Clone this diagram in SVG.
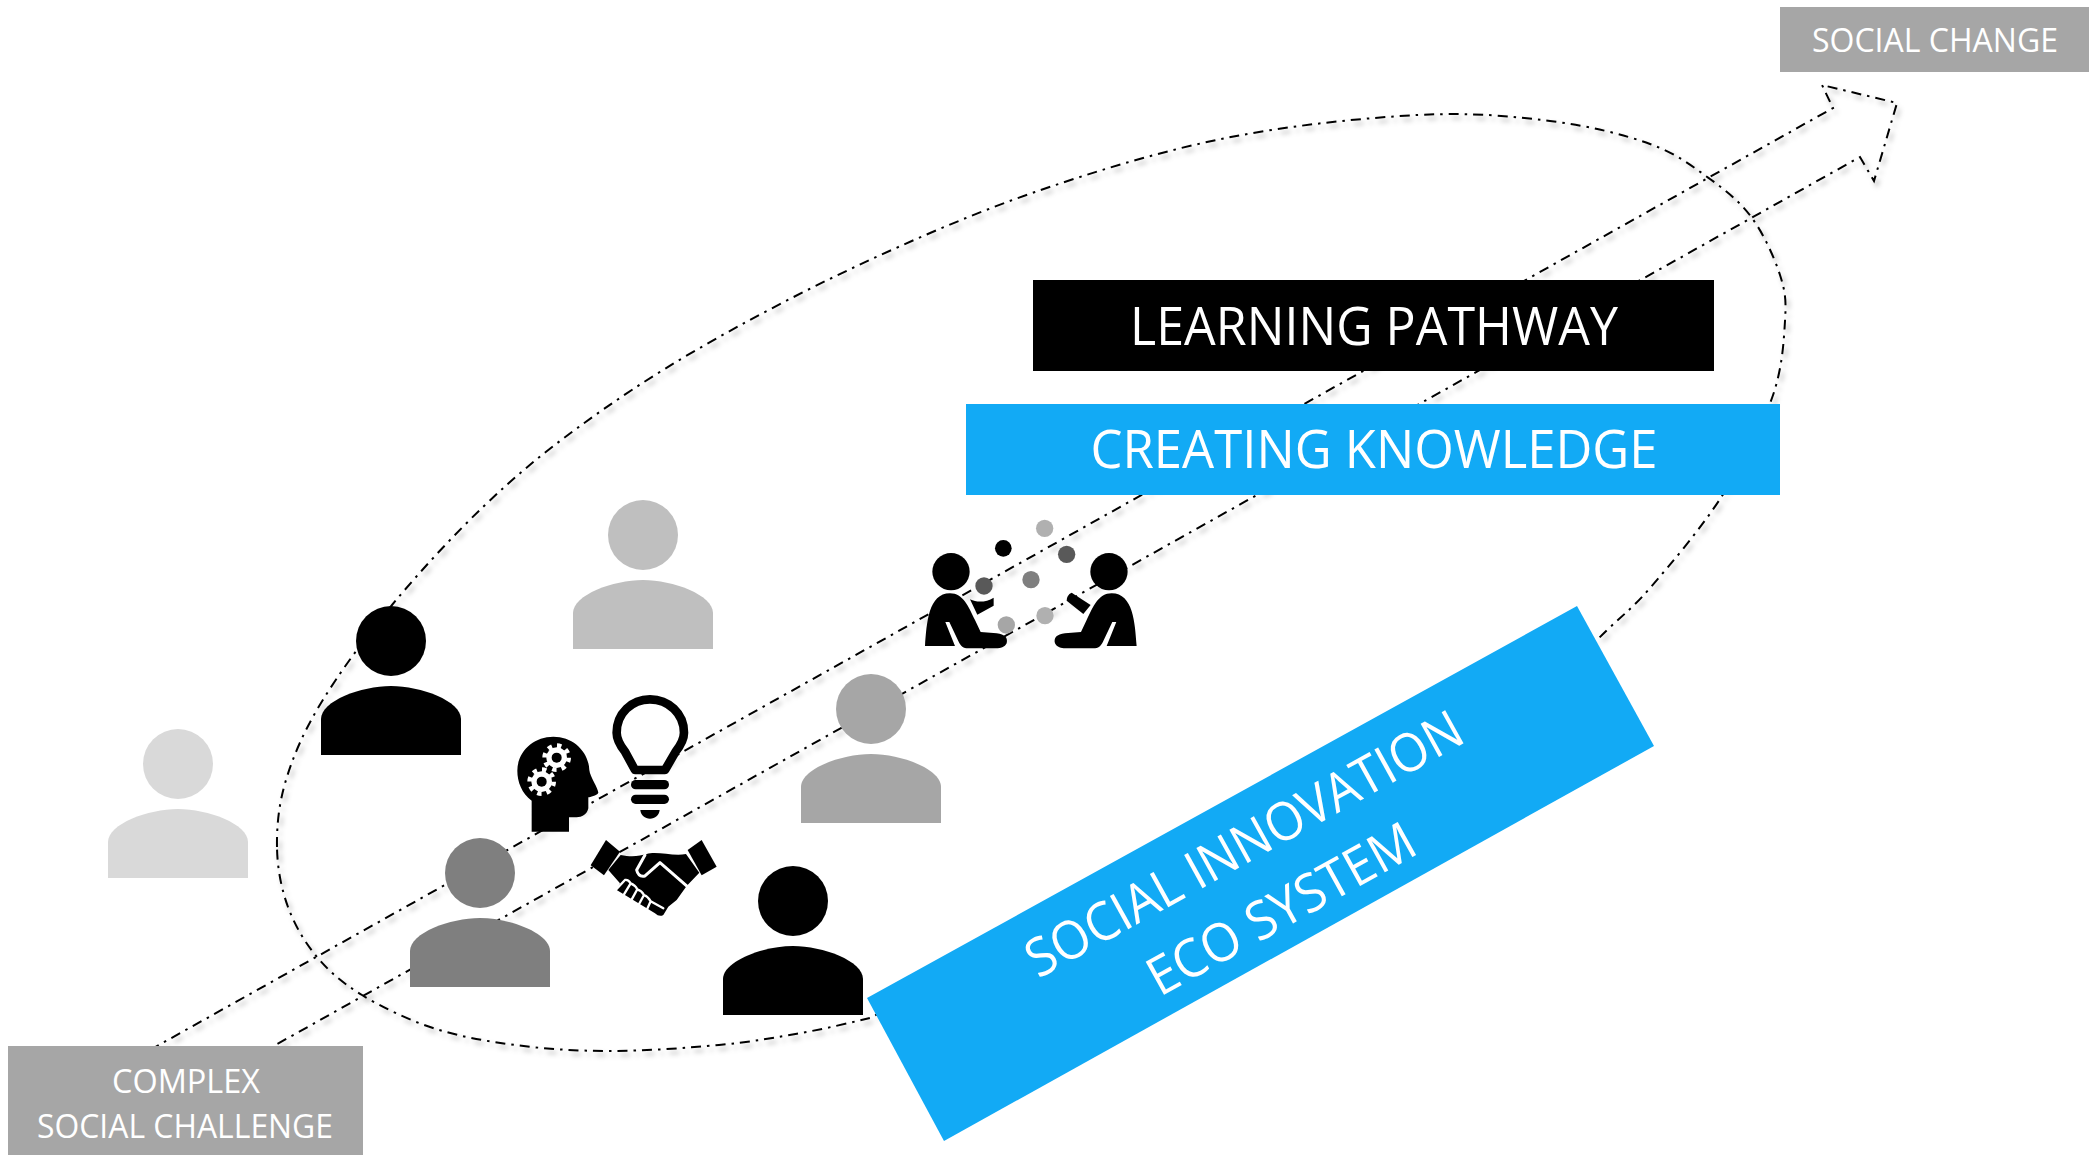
<svg xmlns="http://www.w3.org/2000/svg" width="2097" height="1155" viewBox="0 0 2097 1155">
<defs>
<style>
.t{font-family:"Open Sans","Liberation Sans",sans-serif;fill:#fff;text-anchor:middle}
.big{font-size:53px}
.small{font-size:32px}
.dash{fill:none;stroke:#000;stroke-width:2;stroke-dasharray:10 6 2.5 6;filter:url(#sh)}
.grey{fill:#a6a6a6}
.blue{fill:#12aaf5}
</style>
<filter id="sh" x="-5%" y="-5%" width="110%" height="110%"><feDropShadow dx="3" dy="4" stdDeviation="2.5" flood-color="#000" flood-opacity=".3"/></filter>
<g id="person"><circle cx="0" cy="0" r="35"/><path d="M-70 114V78C-70 60-30 45 0 45C30 45 70 60 70 78V114Z"/></g>
<path id="sitter" d="M75 408C80 340 85 250 150 250C190 250 205 290 225 330L242 366L290 370C315 372 325 385 320 400C315 412 300 415 290 415H205C190 415 182 408 176 395L148 336H136L165 408Z"/>
</defs>
<g id="connectors">
<path class="dash" d="M277 847C276.7 825.8 278.7 804 286 780C293.3 756 303.3 732.2 321 703C338.7 673.8 364.8 637.8 392 605C419.2 572.2 453.3 535.3 484 506C514.7 476.7 540.3 455.2 576 429C611.7 402.8 650.8 376.3 698 349C745.2 321.7 802.8 291.2 859 265C915.2 238.8 973.8 213.2 1035 192C1096.2 170.8 1162.2 150.8 1226 138C1289.8 125.2 1364 117.8 1418 115C1472 112.2 1511.3 116.2 1550 121C1588.7 125.8 1623.3 134.3 1650 144C1676.7 153.7 1693 166.7 1710 179C1727 191.3 1740.3 202 1752 218C1763.7 234 1774.5 257.8 1780 275C1785.5 292.2 1786.3 300.5 1785 321C1783.7 341.5 1782.5 368.8 1772 398C1761.5 427.2 1742.3 464.3 1722 496C1701.7 527.7 1670.7 564.2 1650 588C1629.3 611.8 1624 613 1598 639L870 1018C849 1023 826.2 1028.5 801 1033C775.8 1037.5 751 1042 719 1045C687 1048 643 1051 609 1051C575 1051 544.3 1048.8 515 1045C485.7 1041.2 458.5 1036.3 433 1028C407.5 1019.7 381.3 1006.8 362 995C342.7 983.2 329.3 971.7 317 957C304.7 942.3 294.7 925.3 288 907C281.3 888.7 277.3 868.2 277 847Z"/>
<path class="dash" d="M150 1050L1833 108L1822 85L1897 103L1874 181L1860 157L263 1052"/>
</g>
<g id="social-change"><rect class="grey" x="1780" y="7" width="309" height="65"/><text class="t small" x="1935" y="52" textLength="246" lengthAdjust="spacingAndGlyphs">SOCIAL CHANGE</text></g>
<g id="complex-challenge"><rect class="grey" x="8" y="1046" width="355" height="109"/><text class="t small" x="186" y="1093" textLength="148" lengthAdjust="spacingAndGlyphs">COMPLEX</text><text class="t small" x="185" y="1138" textLength="296" lengthAdjust="spacingAndGlyphs">SOCIAL CHALLENGE</text></g>
<g id="learning-pathway"><rect x="1033" y="280" width="681" height="91"/><text class="t big" x="1374" y="345" textLength="488" lengthAdjust="spacingAndGlyphs">LEARNING PATHWAY</text></g>
<g id="creating-knowledge"><rect class="blue" x="966" y="404" width="814" height="91"/><text class="t big" x="1374" y="468" textLength="567" lengthAdjust="spacingAndGlyphs">CREATING KNOWLEDGE</text></g>
<g id="eco-system"><path class="blue" d="M1577 606L1654 746L944 1141L867 998Z"/>
<text class="t big" transform="translate(1253 860) rotate(-29)" x="0" y="0" textLength="491" lengthAdjust="spacingAndGlyphs">SOCIAL INNOVATION</text>
<text class="t big" transform="translate(1290 925) rotate(-29)" x="0" y="0" textLength="298" lengthAdjust="spacingAndGlyphs">ECO SYSTEM</text></g>
<g id="person-1" fill="#d9d9d9"><use href="#person" x="178" y="764"/></g>
<g id="person-2" fill="#000"><use href="#person" x="391" y="641"/></g>
<g id="person-3" fill="#bfbfbf"><use href="#person" x="643" y="535"/></g>
<g id="person-4" fill="#7f7f7f"><use href="#person" x="480" y="873"/></g>
<g id="person-5" fill="#a6a6a6"><use href="#person" x="871" y="709"/></g>
<g id="person-6" fill="#000"><use href="#person" x="793" y="901"/></g>
<g id="head-icon" transform="translate(500 680) scale(.3333)">
<path d="M95 455V362C65 340 52 305 52 272C52 215 100 170 160 170C220 170 266 215 268 270C270 290 295 325 295 338C290 348 270 350 265 352V385C262 403 245 412 230 412H207V455Z"/>
<g fill="#fff"><circle cx="170" cy="233" r="31"/><circle cx="125" cy="305" r="31"/></g>
<g fill="none" stroke="#fff" stroke-width="14" stroke-dasharray="13 15.27"><circle cx="170" cy="233" r="36"/><circle cx="125" cy="305" r="36"/></g>
<circle cx="170" cy="233" r="15"/><circle cx="125" cy="305" r="15"/>
</g>
<g id="bulb-icon" transform="translate(500 680) scale(.3333)">
<path fill="#fff" stroke="#000" stroke-width="26" stroke-linejoin="round" d="M405 270L375 215C358 193 350 175 350 158C350 100 395 58 450 58C505 58 552 100 552 158C552 175 544 193 527 215L495 270Z"/>
<rect x="393" y="300" width="114" height="28" rx="14"/><rect x="393" y="344" width="114" height="28" rx="14"/>
<path d="M421 390H479C478 405 465 416 450 416C435 416 422 405 421 390Z"/>
</g>
<g id="handshake-icon" transform="translate(500 680) scale(.3333)">
<path d="M318 480L360 515L312 586L272 556Z"/><path d="M605 480L650 560L605 586L563 510Z"/>
<path d="M362 525C395 532 420 528 440 522C470 512 520 530 558 522L598 578L560 618L530 660L505 680L490 705Q478 712 465 700L350 630L360 610L325 570Z"/>
<g fill="none" stroke-linecap="round" stroke-linejoin="round"><path stroke="#fff" stroke-width="9" d="M435 525L410 570Q415 592 435 588L480 548L560 618"/>
<path stroke="#fff" stroke-width="7" d="M345 632L375 600Q385 598 392 610L368 650M392 610Q405 615 412 628L390 668M412 628Q425 632 432 645L412 682M432 645Q445 650 452 664L438 695M452 664L490 685"/></g>
</g>
<g id="dialogue-icon" transform="translate(900 510) scale(.3333)">
<circle cx="153" cy="185" r="56"/><use href="#sitter"/>
<path d="M210 268C235 280 260 275 281 263V287L232 314Z"/>
<circle cx="627" cy="185" r="56"/><use href="#sitter" transform="translate(785 0) scale(-1 1)"/>
<path d="M515 248L572 285L550 312L500 272Q500 255 515 248Z"/>
<circle cx="434" cy="55" r="26" fill="#b0b0b0"/><circle cx="310" cy="115" r="25"/><circle cx="500" cy="133" r="26" fill="#595959"/><circle cx="252" cy="228" r="26" fill="#595959"/><circle cx="393" cy="209" r="26" fill="#7f7f7f"/><circle cx="435" cy="317" r="26" fill="#b0b0b0"/><circle cx="319" cy="345" r="26" fill="#a6a6a6"/>
</g>
</svg>
